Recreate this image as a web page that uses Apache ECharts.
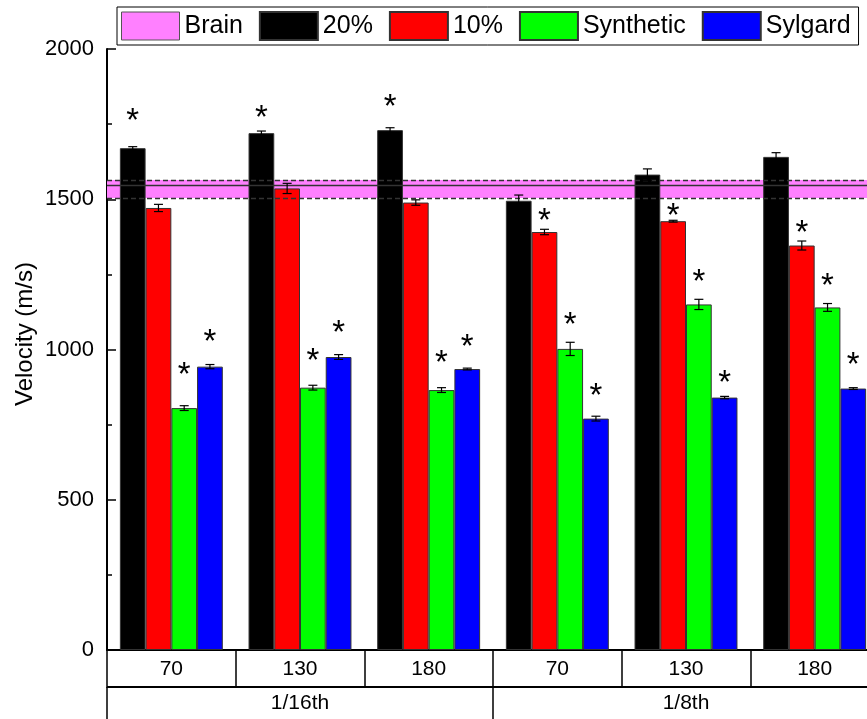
<!DOCTYPE html>
<html>
<head>
<meta charset="utf-8">
<script src="https://cdn.jsdelivr.net/npm/echarts@6/dist/echarts.min.js"></script>
<style>
html,body{margin:0;padding:0;background:#fff;}
#chart{width:867px;height:719px;}
</style>
</head>
<body>
<div id="chart"></div>
<script>
// ---- data ----
const categories = ['70', '130', '180', '70', '130', '180'];
const groupLabels = ['1/16th', '1/8th'];
const seriesNames = ['20%', '10%', 'Synthetic', 'Sylgard'];
const seriesColors = ['#000000', '#FF0000', '#00FF00', '#0000FF'];

const v20 = [1670, 1720, 1730, 1495, 1582, 1641];
const v10 = [1471, 1536, 1489, 1391, 1427, 1346];
const vSyn = [805, 873, 865, 1002, 1150, 1140];
const vSyl = [943, 975, 935, 770, 840, 870];

const e20 = [5, 7, 8, 19, 19, 14];
const e10 = [12, 17, 9, 9, 3, 15];
const eSyn = [8, 8, 8, 22, 17, 13];
const eSyl = [7, 8, 3, 8, 4, 3];

// heights (value units) of significance stars
const star20 = [1780, 1790, 1827, null, null, null];
const star10 = [null, null, null, 1448, 1464, 1409];
const starSyn = [935, 984, 976, 1104, 1245, 1234];
const starSyl = [1045, 1076, 1029, 868, 910, 968];

const brainName = 'Brain';
const brainMean = 1547;
const brainLow = 1504;
const brainHigh = 1564;

const yMin = 0, yMax = 2000, yInterval = 500;
const yTitle = 'Velocity (m/s)';

// ---- build ----
const values = [v20, v10, vSyn, vSyl];
const errors = [e20, e10, eSyn, eSyl];
const stars = [star20, star10, starSyn, starSyl];
const FONT = '"Liberation Sans", Arial, sans-serif';

const chart = echarts.init(document.getElementById('chart'), null, {renderer: 'canvas'});

function errRender(barIdx) {
  return function (params, api) {
    const ci = api.value(0), v = api.value(1), e = api.value(2);
    const bw = api.size([1, 0])[0];
    const off = (barIdx - 1.5) * 0.2 * bw;
    const x = api.coord([ci, v])[0] + off;
    const yHi = api.coord([ci, v + e])[1];
    const yLo = api.coord([ci, v - e])[1];
    const cap = 4.5;
    const st = {stroke: '#000', lineWidth: 1.2};
    return {
      type: 'group',
      children: [
        {type: 'line', shape: {x1: x, y1: yHi, x2: x, y2: yLo}, style: st},
        {type: 'line', shape: {x1: x - cap, y1: yHi, x2: x + cap, y2: yHi}, style: st},
        {type: 'line', shape: {x1: x - cap, y1: yLo, x2: x + cap, y2: yLo}, style: st}
      ]
    };
  };
}

function starRender(barIdx) {
  return function (params, api) {
    const ci = api.value(0), v = api.value(1);
    const bw = api.size([1, 0])[0];
    const off = (barIdx - 1.5) * 0.2 * bw;
    const p = api.coord([ci, v]);
    const fs = 33;
    return {
      type: 'text',
      x: p[0] + off,
      y: p[1] + 0.22 * fs,
      style: {text: '*', fontSize: fs, fontFamily: FONT, fill: '#000', align: 'center', verticalAlign: 'middle'}
    };
  };
}

const series = [];
series.push({
  name: brainName,
  type: 'line',
  data: [],
  z: 1,
  itemStyle: {color: '#FF80FF', borderColor: '#555', borderWidth: 1},
  markArea: {
    silent: true,
    itemStyle: {color: '#FF80FF', opacity: 1},
    data: [[{yAxis: brainLow}, {yAxis: brainHigh}]]
  },
  markLine: {
    silent: true,
    symbol: 'none',
    label: {show: false},
    data: [
      {yAxis: brainMean, lineStyle: {type: 'solid', color: '#333', width: 1.3}},
      {yAxis: brainLow, lineStyle: {type: [5, 3], color: '#333', width: 1.3}},
      {yAxis: brainHigh, lineStyle: {type: [5, 3], color: '#333', width: 1.3}}
    ]
  }
});

seriesNames.forEach((n, i) => {
  series.push({
    name: n,
    type: 'bar',
    data: values[i],
    barGap: '0%',
    barCategoryGap: '20%',
    z: 3,
    itemStyle: {color: seriesColors[i], borderColor: '#333', borderWidth: 1}
  });
});
seriesNames.forEach((n, i) => {
  series.push({
    type: 'custom',
    renderItem: errRender(i),
    data: values[i].map((v, k) => [k, v, errors[i][k]]),
    z: 5,
    silent: true
  });
  series.push({
    type: 'custom',
    renderItem: starRender(i),
    data: stars[i].map((s, k) => [k, s]).filter(d => d[1] !== null),
    z: 5,
    silent: true
  });
});

const option = {
  animation: false,
  backgroundColor: '#fff',
  textStyle: {fontFamily: FONT},
  legend: {
    left: 117,
    top: 7,
    width: 760,
    padding: [4, 8, 4, 4],
    borderColor: '#000',
    borderWidth: 1,
    itemWidth: 58,
    itemHeight: 28,
    itemGap: 16,
    textStyle: {fontSize: 25, color: '#000', fontFamily: FONT},
    data: [
      {name: brainName, icon: 'rect', itemStyle: {color: '#FF80FF', borderColor: '#555', borderWidth: 1}},
      ...seriesNames.map(n => ({name: n, icon: 'rect'}))
    ],
    selectedMode: false
  },
  grid: {left: 107, top: 49, width: 772, height: 601, containLabel: false, outerBoundsMode: 'none'},
  xAxis: [
    {
      type: 'category',
      data: categories,
      position: 'bottom',
      axisLine: {show: true, lineStyle: {color: '#000', width: 2}},
      axisTick: {show: true, length: 36, interval: 0, lineStyle: {color: '#000', width: 1.5}},
      axisLabel: {fontSize: 21, color: '#000', margin: 9, interval: 0, fontFamily: FONT},
      splitLine: {show: false}
    },
    {
      type: 'category',
      data: groupLabels,
      position: 'bottom',
      offset: 37,
      axisLine: {show: true, lineStyle: {color: '#000', width: 2}},
      axisTick: {show: true, length: 40, interval: 0, lineStyle: {color: '#000', width: 1.5}},
      axisLabel: {fontSize: 21, color: '#000', margin: 6, interval: 0, fontFamily: FONT},
      splitLine: {show: false}
    }
  ],
  yAxis: {
    type: 'value',
    min: yMin,
    max: yMax,
    interval: yInterval,
    axisLine: {show: true, lineStyle: {color: '#000', width: 2}},
    axisTick: {show: true, inside: true, length: 9, lineStyle: {color: '#000', width: 1.5}},
    minorTick: {show: true, splitNumber: 2, length: 5, lineStyle: {color: '#000', width: 1.5}},
    axisLabel: {fontSize: 22, color: '#000', margin: 13, fontFamily: FONT, formatter: v => String(v)},
    splitLine: {show: false}
  },
  graphic: [
    {
      type: 'text',
      x: 25,
      y: 334,
      rotation: Math.PI / 2,
      style: {text: yTitle, fontSize: 24, fontFamily: FONT, fill: '#000', align: 'center', verticalAlign: 'middle'}
    }
  ],
  series: series
};

chart.setOption(option);
</script>
</body>
</html>
